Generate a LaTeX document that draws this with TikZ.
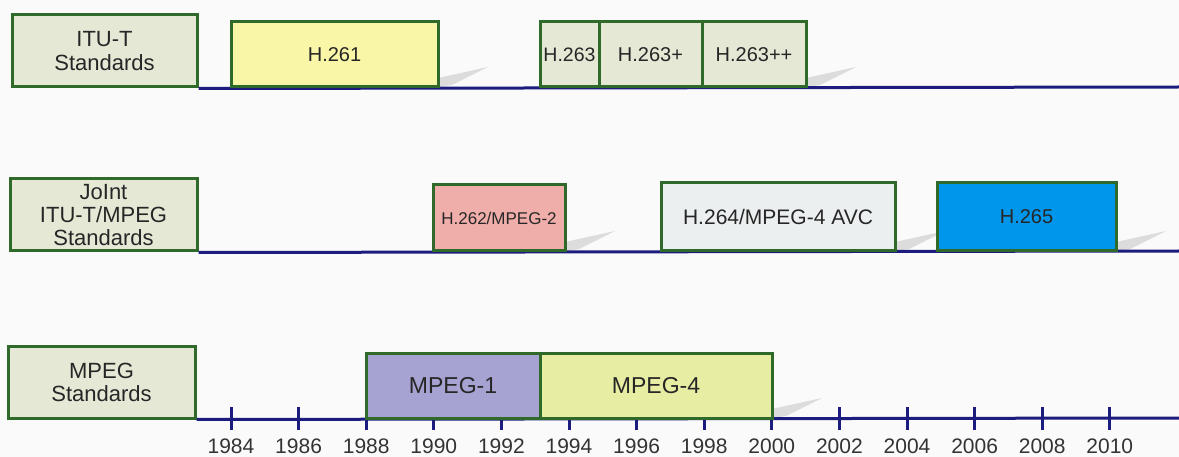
\documentclass[tikz,border=0pt]{standalone}
\usepackage{fontspec}
\setmainfont{Liberation Sans}
\definecolor{bg}{HTML}{FAFAFA}
\definecolor{frame}{HTML}{2F6A2A}
\definecolor{axis}{HTML}{1C1C7E}
\definecolor{lab}{HTML}{E4E8D5}
\definecolor{cH261}{HTML}{FAF6A8}
\definecolor{cH262}{HTML}{F0AEAA}
\definecolor{cH264}{HTML}{ECEFEF}
\definecolor{cH265}{HTML}{0096EC}
\definecolor{cMPA}{HTML}{A6A2D2}
\definecolor{cMPB}{HTML}{E8EDA4}
\definecolor{shad}{HTML}{DCDCDC}
\tikzset{
  stdbox/.style={draw=frame, line width=3pt, inner sep=0pt, align=center, text=black!85},
  axisline/.style={draw=axis, line width=3pt},
  tick/.style={draw=axis, line width=3pt},
  yearlab/.style={font=\fontsize{21}{21}\selectfont, text=black!80, inner sep=0pt},
  shadowshape/.style={fill=shad, draw=none},
}
% \tbox{name}{x1}{y1}{x2}{y2}{fill}{fontsize}{text}
\newcommand{\tbox}[8]{%
  \node[stdbox, fill=#6, minimum width={(#4-#2)*1pt}, minimum height={(#5-#3)*1pt},
        font=\fontsize{#7}{1.05\dimexpr#7pt\relax}\selectfont] (#1) at ({(#2+#4)/2},{(#3+#5)/2}) {#8};}
\newcommand{\tshadow}[2]{%
  \fill[shadowshape] (#1,#2) -- (#1,#2-9) -- (#1+50,#2-20) -- (#1+14,#2-2) -- cycle;}
\begin{document}
\begin{tikzpicture}[x=1pt,y=-1pt]
\fill[bg] (0,0) rectangle (1179,457);
\useasboundingbox (0,0) rectangle (1179,457);
% shadows
\tshadow{438}{87}
\tshadow{806}{87}
\tshadow{565}{251}
\tshadow{895}{251}
\tshadow{1116}{251}
\tshadow{772}{418}
% baseline coordinates
\coordinate (e1) at (1179,87);
\coordinate (e2) at (1179,251);
\coordinate (e3) at (1179,418);
% label boxes
\tbox{itu}{12}{15}{197}{87}{lab}{22}{ITU-T\\Standards}
\tbox{joint}{10}{179}{197}{251}{lab}{22}{JoInt\\ITU-T/MPEG\\Standards}
\tbox{mpeg}{8}{346}{195}{418}{lab}{22}{MPEG\\Standards}
% baselines
\draw[axisline] (itu.south east) -- (e1);
\draw[axisline] (joint.south east) -- (e2);
\draw[axisline] (mpeg.south east) -- (e3);
% ticks and years
\foreach \i in {0,...,13}{
  \pgfmathsetmacro{\xx}{231+\i*67.6}
  \pgfmathtruncatemacro{\yr}{1984+2*\i}
  \coordinate (t\i) at (\xx,407);
  \draw[tick] (t\i) -- ++(0,23);
  \node[yearlab] (y\i) at (\xx,446) {\yr};
}
% boxes row 1
\tbox{h261}{231}{22}{438}{87}{cH261}{20}{H.261}
\tbox{h263}{540}{22}{599}{87}{lab}{19.5}{H.263}
\tbox{h263p}{599}{22}{702}{87}{lab}{20}{H.263+}
\tbox{h263pp}{702}{22}{806}{87}{lab}{20}{H.263++}
% row 2
\tbox{h262}{433}{185}{565}{251}{cH262}{17}{H.262/MPEG-2}
\tbox{h264}{661}{183}{895}{251}{cH264}{21}{H.264/MPEG-4 AVC}
\tbox{h265}{937}{183}{1116}{251}{cH265}{20}{H.265}
% row 3
\tbox{mp1}{366}{353}{540}{418}{cMPA}{23}{MPEG-1}
\tbox{mp4}{540}{353}{772}{418}{cMPB}{23}{MPEG-4}
\end{tikzpicture}
\end{document}
